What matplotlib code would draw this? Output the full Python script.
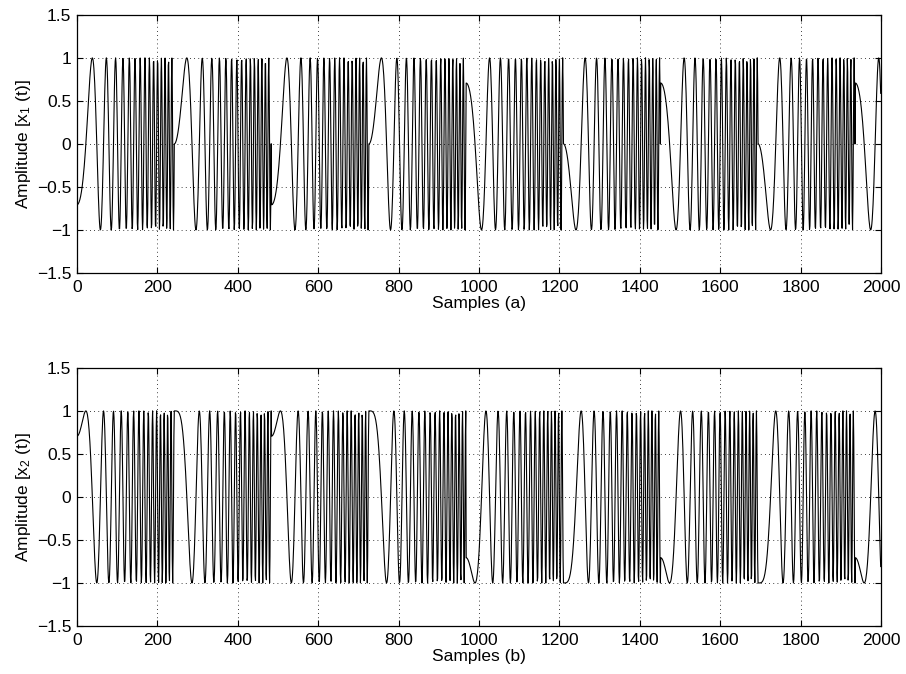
import matplotlib
matplotlib.use('Agg')
import matplotlib.pyplot as plt
import numpy as np

plt.rcParams['font.family'] = ['Liberation Sans', 'DejaVu Sans']
plt.rcParams['mathtext.fontset'] = 'custom'
plt.rcParams['mathtext.rm'] = 'Liberation Sans'
plt.rcParams['mathtext.it'] = 'Liberation Sans:italic'
plt.rcParams['mathtext.default'] = 'regular'

# chirp parameters
n_samples = 2000
seg_len = 242
f_start = 0.0      # cycles / sample at segment start
f_end = 0.125      # cycles / sample at segment end
# initial phase of each segment (in units of pi)
phase_x1 = [-0.75, -0.5, -0.75, -0.5, 0.25, 0.5, 0.25, 0.5, 0.25]
phase_x2 = [-0.25, 0.0, -0.25, 0.0, 0.75, 1.0, 0.75, 1.0, 0.75]

x_ticks = [0, 200, 400, 600, 800, 1000, 1200, 1400, 1600, 1800, 2000]
y_ticks = [-1.5, -1, -0.5, 0, 0.5, 1, 1.5]
y_ticklabels = ['\u22121.5', '\u22121', '\u22120.5', '0', '0.5', '1', '1.5']

FS = 12.5


def build_signal(phases):
    n = np.arange(n_samples)
    k = n % seg_len
    seg = n // seg_len
    rate = (f_end - f_start) / seg_len
    phi = 2 * np.pi * (f_start * k + 0.5 * rate * k ** 2)
    theta = np.pi * np.array(phases)[seg]
    return n, np.cos(phi + theta)


def style_axes(ax, xlabel, ylabel):
    ax.set_xlim(0, 2000)
    ax.set_ylim(-1.5, 1.5)
    ax.set_xticks(x_ticks)
    ax.set_yticks(y_ticks)
    ax.set_yticklabels(y_ticklabels)
    ax.tick_params(direction='in', top=True, right=True, length=4,
                   width=0.8, labelsize=FS)
    ax.tick_params(axis='x', pad=5)
    ax.tick_params(axis='y', pad=4)
    ax.grid(True, color='black', linestyle=(0, (1, 4)), linewidth=0.6)
    for s in ax.spines.values():
        s.set_linewidth(0.9)
    ax.set_xlabel(xlabel, fontsize=FS, labelpad=1)
    ax.set_ylabel(ylabel, fontsize=FS, labelpad=3)


fig = plt.figure(figsize=(9.06, 6.74), dpi=100)
ax1 = fig.add_axes([0.085, 0.595, 0.8875, 0.383])
ax2 = fig.add_axes([0.085, 0.0712, 0.8875, 0.383])

n, x1 = build_signal(phase_x1)
ax1.plot(n, x1, color='black', lw=0.8)
style_axes(ax1, 'Samples (a)', 'Amplitude [x$_1$ (t)]')

n, x2 = build_signal(phase_x2)
ax2.plot(n, x2, color='black', lw=0.8)
style_axes(ax2, 'Samples (b)', 'Amplitude [x$_2$ (t)]')

fig.savefig('out.png', dpi=100)
